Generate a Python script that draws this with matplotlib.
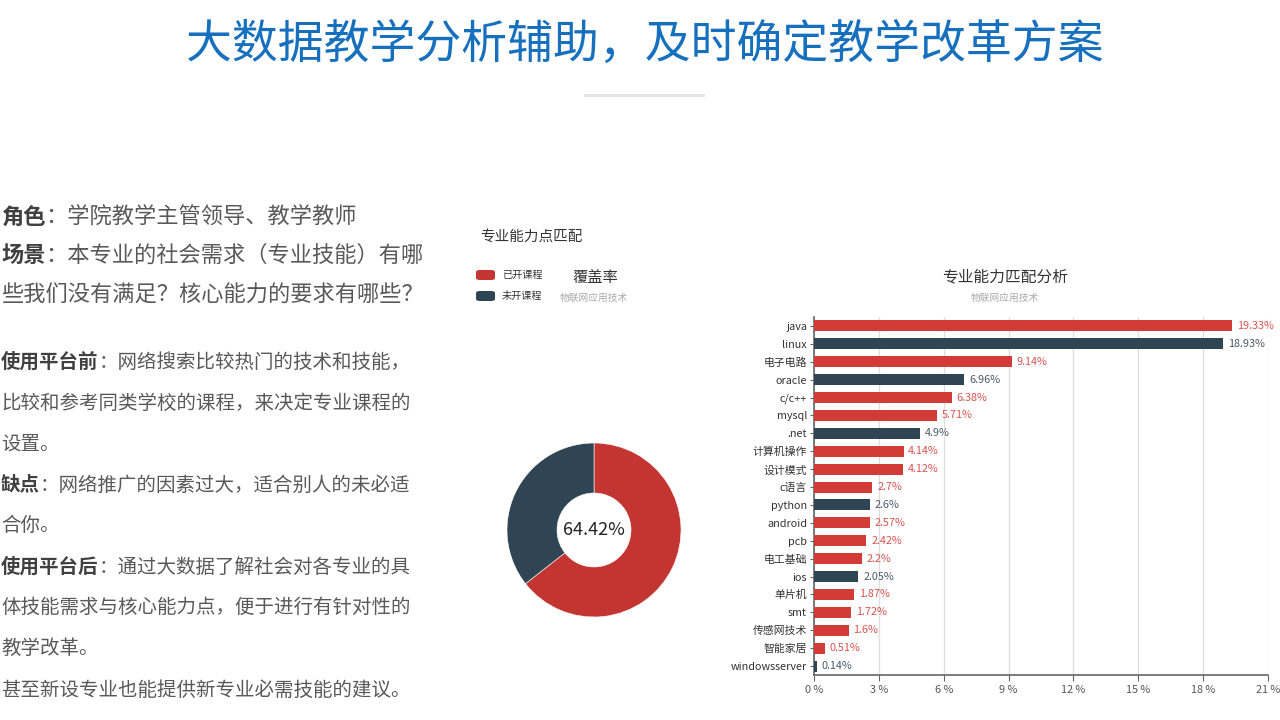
import numpy as np
import matplotlib
matplotlib.use("Agg")
import matplotlib.pyplot as plt
from matplotlib.patches import FancyBboxPatch

plt.rcParams['font.family'] = ['Noto Sans CJK SC', 'DejaVu Sans']

W, H = 1280, 720

# data
skills = ["java", "linux", "电子电路", "oracle", "c/c++", "mysql", ".net", "计算机操作",
          "设计模式", "c语言", "python", "android", "pcb", "电工基础", "ios", "单片机",
          "smt", "传感网技术", "智能家居", "windowsserver"]
shares = [19.33, 18.93, 9.14, 6.96, 6.38, 5.71, 4.9, 4.14, 4.12, 2.7, 2.6, 2.57, 2.42,
          2.2, 2.05, 1.87, 1.72, 1.6, 0.51, 0.14]
opened = [1, 0, 1, 0, 1, 1, 0, 1, 1, 1, 0, 1, 1, 1, 0, 1, 1, 1, 1, 0]
coverage = 64.42
legend_names = ["已开课程", "未开课程"]
xticks = [0, 3, 6, 9, 12, 15, 18, 21]

RED = "#d23b38"
DARK = "#2f4554"
RED_TXT = "#d9534f"
DARK_TXT = "#4a5a68"
PIE_RED = "#c23531"


def fx(px):
    return px / W


def fy(py):
    return 1 - py / H


fig = plt.figure(figsize=(12.8, 7.2), dpi=100)
fig.patch.set_facecolor("white")

# title
fig.text(fx(645), fy(45), "大数据教学分析辅助，及时确定教学改革方案", fontsize=33,
         color="#1670be", ha="center", va="center")
fig.add_artist(plt.Line2D([fx(585), fx(703)], [fy(95), fy(95)], color="#e3e3e3", lw=2.2))

# left text block
lines = [
    ("角色", "：学院教学主管领导、教学教师", 16, 217),
    ("场景", "：本专业的社会需求（专业技能）有哪", 16, 255),
    ("", "些我们没有满足？核心能力的要求有哪些？", 16, 295),
    ("使用平台前", "：网络搜索比较热门的技术和技能，", 14, 362),
    ("", "比较和参考同类学校的课程，来决定专业课程的", 14, 403),
    ("", "设置。", 14, 444),
    ("缺点", "：网络推广的因素过大，适合别人的未必适", 14, 485),
    ("", "合你。", 14, 525),
    ("使用平台后", "：通过大数据了解社会对各专业的具", 14, 567),
    ("", "体技能需求与核心能力点，便于进行有针对性的", 14, 607),
    ("", "教学改革。", 14, 648),
    ("", "甚至新设专业也能提供新专业必需技能的建议。", 14, 690),
]
renderer = fig.canvas.get_renderer()
for bold, rest, size, y in lines:
    x = 1
    if bold:
        t = fig.text(fx(x), fy(y), bold, fontsize=size, fontweight="bold",
                     color="#404040", ha="left", va="center")
        x += t.get_window_extent(renderer).width
    fig.text(fx(x), fy(y), rest, fontsize=size, color="#595959", ha="left", va="center")

# pie block
fig.text(fx(480), fy(237), "专业能力点匹配", fontsize=10.5, color="#333333",
         ha="left", va="center")
for i, (name, col) in enumerate(zip(legend_names, [PIE_RED, DARK])):
    y0 = 270 + i * 21
    fig.add_artist(FancyBboxPatch((fx(476), fy(y0 + 10)), fx(19), 10 / H,
                                  boxstyle="round,pad=0,rounding_size=0.003",
                                  transform=fig.transFigure, fc=col, ec="none"))
    fig.text(fx(502), fy(y0 + 5), name, fontsize=7.3, color="#333333",
             ha="left", va="center")
fig.text(fx(595), fy(277), "覆盖率", fontsize=11, color="#333333", ha="center", va="center")
fig.text(fx(594), fy(298), "物联网应用技术", fontsize=7, color="#aaaaaa",
         ha="center", va="center")

pie_ax = fig.add_axes([fx(594 - 90), fy(530 + 90), fx(180), 180 / H])
pie_ax.pie([coverage, 100 - coverage], colors=[PIE_RED, DARK], startangle=90,
           counterclock=False, radius=1,
           wedgeprops=dict(width=1 - 37 / 87, edgecolor="white", linewidth=0.4))
pie_ax.set_xlim(-90 / 87, 90 / 87)
pie_ax.set_ylim(-90 / 87, 90 / 87)
pie_ax.set_aspect("equal")
pie_ax.text(0, 0, "%.2f%%" % coverage, fontsize=13, color="#222222",
            ha="center", va="center")

# bar chart
fig.text(fx(1005), fy(277), "专业能力匹配分析", fontsize=11.3, color="#333333",
         ha="center", va="center")
fig.text(fx(1005), fy(298), "物联网应用技术", fontsize=7, color="#aaaaaa",
         ha="center", va="center")

ax = fig.add_axes([fx(814), fy(675), fx(1268 - 814), (675 - 317) / H])
ypos = np.arange(len(skills))
cols = [RED if o else DARK for o in opened]
ax.barh(ypos, shares, height=0.62, color=cols, zorder=3)
for y, v, o in zip(ypos, shares, opened):
    ax.text(v + 0.22, y, "%g%%" % v, fontsize=7.8, color=RED_TXT if o else DARK_TXT,
            ha="left", va="center")
ax.set_ylim(len(skills) - 0.5, -0.5)
ax.set_xlim(0, 21)
ax.set_yticks(ypos)
ax.set_yticklabels(skills, fontsize=7.8, color="#333333")
ax.set_xticks(xticks)
ax.set_xticklabels(["%d %%" % t for t in xticks], fontsize=7.8, color="#555555")
ax.grid(axis="x", color="#dddddd", lw=0.9, zorder=0)
for s in ["top", "right"]:
    ax.spines[s].set_visible(False)
for s in ["left", "bottom"]:
    ax.spines[s].set_color("#666666")
    ax.spines[s].set_linewidth(1.2)
ax.tick_params(axis="y", length=3, color="#666666", pad=2)
ax.tick_params(axis="x", length=4, color="#666666", pad=3)

fig.savefig("out.png", dpi=100)
